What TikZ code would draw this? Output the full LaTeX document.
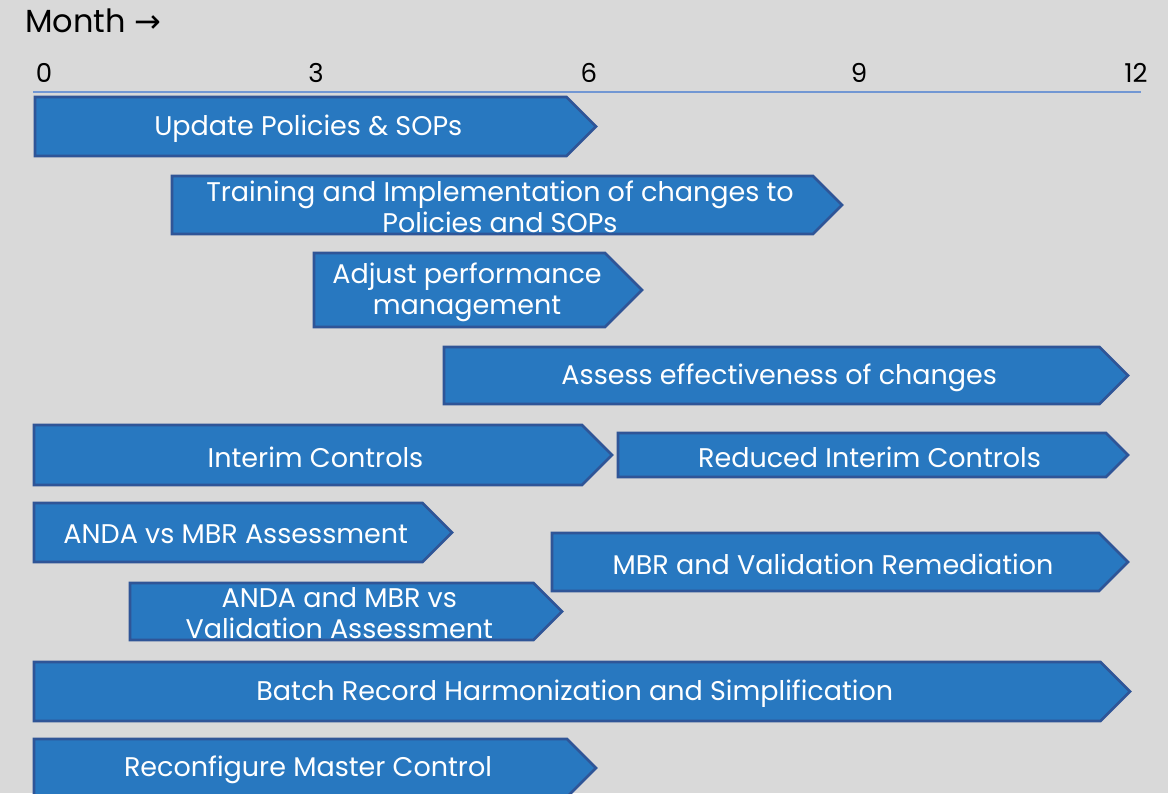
\documentclass[tikz,border=0pt]{standalone}
\usepackage{fontspec}
\setmainfont{Poppins}
\newfontfamily\arrowfont{DejaVu Sans}
\usetikzlibrary{shapes.symbols}

\definecolor{bggray}{HTML}{D9D9D9}
\definecolor{barblue}{HTML}{2878C0}
\definecolor{baredge}{HTML}{2F5597}
\definecolor{axisblue}{HTML}{7297D3}

\begin{document}
\begin{tikzpicture}[x=0.5pt,y=-0.5pt,
  task/.style 2 args={signal, signal to=east, signal pointer angle=90,
    minimum width=#1*0.5pt, minimum height=#2*0.5pt, inner sep=0pt,
    fill=barblue, draw=baredge, line width=1.3pt},
  tasktxt/.style={text=white, align=center, inner sep=0pt, xshift=3.75pt, yshift=-1pt,
    font=\fontsize{13.5}{15.5}\selectfont},
  monthlbl/.style={anchor=base, inner sep=0pt, font=\fontsize{13}{15}\selectfont}]
  \fill[bggray] (0,0) rectangle (1168,793);
  \useasboundingbox (0,0) rectangle (1168,793);
  % time axis
  \node[anchor=base west, inner sep=0pt, font=\fontsize{16}{18}\selectfont] (month) at (25,32) {Month {\arrowfont →}};
  \coordinate (ax0) at (33,92); \coordinate (ax1) at (1141,92);
  \draw[axisblue, line width=1.2pt] (ax0) -- (ax1);
  \foreach \m/\x in {0/44,3/316,6/589,9/859,12/1136}
    \node[monthlbl] (m\m) at (\x,82) {\m};
  % tasks: bar first, its text on top
  \node[task={561}{59}] (upd) at (300.75,126.5) {};
  \node[tasktxt] (upd-t) at (upd) {Update Policies \& SOPs};
  \node[task={670}{58}] (trn) at (492.5,205) {};
  \node[tasktxt] (trn-t) at (trn) {Training and Implementation of changes to\\Policies and SOPs};
  \node[task={328}{74}] (adj) at (459.5,290) {};
  \node[tasktxt] (adj-t) at (adj) {Adjust performance\\management};
  \node[task={684}{57}] (ass) at (771.75,375.5) {};
  \node[tasktxt] (ass-t) at (ass) {Assess effectiveness of changes};
  \node[task={578}{60}] (int) at (308,455) {};
  \node[tasktxt] (int-t) at (int) {Interim Controls};
  \node[task={510}{44}] (red) at (862,455) {};
  \node[tasktxt] (red-t) at (red) {Reduced Interim Controls};
  \node[task={418}{59}] (avm) at (228.25,532.5) {};
  \node[tasktxt] (avm-t) at (avm) {ANDA vs MBR Assessment};
  \node[task={576}{58}] (rem) at (825.5,562) {};
  \node[tasktxt] (rem-t) at (rem) {MBR and Validation Remediation};
  \node[task={432}{57}] (avv) at (331.75,611.5) {};
  \node[tasktxt] (avv-t) at (avv) {ANDA and MBR vs\\Validation Assessment};
  \node[task={1096}{59}] (brh) at (567.25,691.5) {};
  \node[tasktxt] (brh-t) at (brh) {Batch Record Harmonization and Simplification};
  \node[task={562}{58}] (rmc) at (300.5,768) {};
  \node[tasktxt] (rmc-t) at (rmc) {Reconfigure Master Control};
\end{tikzpicture}
\end{document}
